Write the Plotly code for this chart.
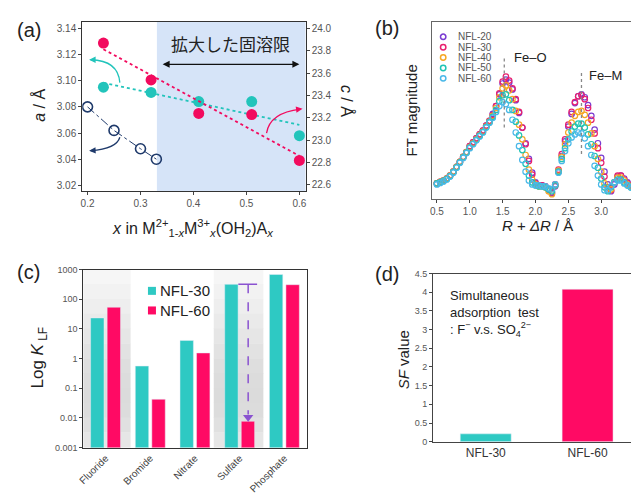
import plotly.graph_objects as go
import numpy as np

# The page body has an 8px margin, so the figure is placed 8px in and sized to fit.
OFF = 8
W, H = 639 - OFF, 494 - OFF
def dx(p0, p1):
    return [max(0, (p0 - OFF) / W), min(1, (p1 - OFF) / W)]
def dy(top, bottom):
    return [max(0, 1 - (bottom - OFF) / H), min(1, 1 - (top - OFF) / H)]
def PX(p):
    return (p - OFF) / W
def PY(p):
    return 1 - (p - OFF) / H

FONT = "Arial, Liberation Sans, sans-serif"
PINK = "#f20a5e"
TEAL = "#22c4bb"
NAVY = "#1f3a6b"
BAR_TEAL = "#2ec9c3"
BAR_PINK = "#ff0a64"

# ---------------- Panel (a) data ----------------
x_open = [0.20, 0.25, 0.30, 0.33]
a_open = [3.080, 3.062, 3.048, 3.040]
x_fill = [0.23, 0.32, 0.41, 0.51, 0.60]
a_teal = [3.095, 3.091, 3.084, 3.084, 3.058]
c_pink = [23.87, 23.54, 23.24, 23.23, 22.82]

# ---------------- Panel (b) data ----------------
R = [0.50, 0.55, 0.60, 0.65, 0.70, 0.75, 0.80, 0.85, 0.90, 0.95,
     1.00, 1.05, 1.10, 1.15, 1.20, 1.25, 1.30, 1.35, 1.40, 1.45,
     1.50, 1.55, 1.60, 1.65, 1.70, 1.75, 1.80, 1.85, 1.90, 1.95,
     2.00, 2.05, 2.10, 2.15, 2.20, 2.25, 2.30, 2.35, 2.40, 2.45,
     2.50, 2.55, 2.60, 2.65, 2.70, 2.75, 2.80, 2.85, 2.90, 2.95,
     3.00, 3.05, 3.10, 3.15, 3.20, 3.25, 3.30, 3.35, 3.40, 3.45, 3.50]
ft_nfl20 = [16, 17.5, 19, 21, 24, 28, 33, 38, 43, 48, 54, 58, 62, 66, 70, 75, 80,
            87, 95, 107, 118, 122, 119, 112, 101, 88, 73, 57, 41, 27, 17, 14, 14, 13, 10, 6,
            13, 28, 44, 59, 74, 87, 98, 105, 107, 104, 96, 85, 71, 57, 42, 28, 15, 8,
            15, 23, 24, 21, 17, 14, 12]
ft_nfl30 = [16, 17.5, 19, 21, 24, 28, 33, 38, 43, 48, 54, 58, 62, 66, 70, 75, 80,
            86, 95, 108, 120, 125, 121, 113, 102, 89, 73, 56, 39, 25, 16, 14, 14, 13, 10, 7,
            15, 30, 46, 61, 76, 89, 99, 105, 106, 102, 93, 81, 67, 52, 37, 23, 12, 9,
            17, 24, 24, 20, 16, 13, 11]
ft_nfl40 = [16, 17.5, 19, 21, 24, 28, 33, 38, 43, 48, 53, 57, 61, 65, 69, 74, 79,
            85, 93, 104, 113, 116, 111, 102, 90, 76, 61, 45, 30, 20, 15, 13, 13, 12, 8, 5,
            14, 29, 43, 56, 68, 78, 85, 89, 90, 86, 78, 67, 54, 41, 28, 16, 9, 10,
            17, 22, 22, 19, 15, 13, 11]
ft_nfl50 = [16, 17, 18.5, 20.5, 23.5, 27.5, 32.5, 37.5, 42.5, 47.5, 52.5, 56.5, 60.5, 64.5, 68.5, 73.5, 78.5,
            84, 91, 100, 106, 107, 101, 91, 79, 65, 50, 36, 24, 17, 14, 13, 13, 12, 10, 8,
            14, 28, 41, 52, 61, 69, 74, 77, 77, 73, 66, 56, 44, 32, 21, 12, 8, 12,
            17, 20, 20, 17, 14, 12, 11]
ft_nfl60 = [15, 16.5, 18, 20, 23, 27, 32, 37, 42, 47, 52, 56, 60, 64, 68, 73, 78,
            83, 89, 95, 99, 97, 91, 81, 68, 54, 40, 28, 19, 15, 14, 14, 13, 13, 11, 10,
            15, 27, 39, 49, 57, 63, 66, 68, 67, 62, 54, 45, 34, 24, 15, 9, 9, 13,
            17, 19, 19, 16, 14, 12, 11]
ft_names = ["NFL-20", "NFL-30", "NFL-40", "NFL-50", "NFL-60"]
ft_colors = ["#7a3bd1", "#e8206e", "#f5a623", "#1fc4b4", "#4ab8e8"]
ft_series = [ft_nfl20, ft_nfl30, ft_nfl40, ft_nfl50, ft_nfl60]

# ---------------- Panel (c) data ----------------
anions = ["Fluoride", "Bromide", "Nitrate", "Sulfate", "Phosphate"]
k_nfl30 = [23.5, 0.56, 4.1, 319, 684]
k_nfl60 = [54, 0.0425, 1.55, 0.0077, 310]
c_ticks = [0.001, 0.01, 0.1, 1, 10, 100, 1000]
c_ticktext = ["0.001", "0.01", "0.1", "1", "10", "100", "1000"]

# ---------------- Panel (d) data ----------------
samples_d = ["NFL-30", "NFL-60"]
sf_values = [0.21, 4.08]
d_ticks = [0, 0.5, 1, 1.5, 2, 2.5, 3, 3.5, 4, 4.5]
d_ticktext = ["0", "0.5", "1", "1.5", "2", "2.5", "3", "3.5", "4", "4.5"]

fig = go.Figure()

# ---- (a) traces
pfit = np.polyfit(x_fill, c_pink, 1)
tfit = np.polyfit(x_fill, a_teal, 1)
xf = [x_fill[0], x_fill[-1]]
fig.add_trace(go.Scatter(x=xf, y=[np.polyval(tfit, v) for v in xf], mode="lines",
                         line=dict(color=TEAL, dash="dot", width=1.8), xaxis="x", yaxis="y", showlegend=False))
fig.add_trace(go.Scatter(x=x_open, y=a_open, mode="lines+markers",
                         line=dict(color=NAVY, dash="dashdot", width=1),
                         marker=dict(symbol="circle-open", size=10, color=NAVY, line=dict(width=1.6)),
                         xaxis="x", yaxis="y", showlegend=False))
fig.add_trace(go.Scatter(x=x_fill, y=a_teal, mode="markers",
                         marker=dict(size=11, color=TEAL), xaxis="x", yaxis="y", showlegend=False))
fig.add_trace(go.Scatter(x=xf, y=[np.polyval(pfit, v) for v in xf], mode="lines",
                         line=dict(color=PINK, dash="dot", width=1.8), xaxis="x", yaxis="y2", showlegend=False))
fig.add_trace(go.Scatter(x=x_fill, y=c_pink, mode="markers",
                         marker=dict(size=11, color=PINK), xaxis="x", yaxis="y2", showlegend=False))

# ---- (b) traces
for name, col, ys in zip(ft_names, ft_colors, ft_series):
    fig.add_trace(go.Scatter(x=R, y=ys, mode="markers", name=name,
                             marker=dict(symbol="circle-open", size=5.5, color=col, line=dict(width=1.2)),
                             xaxis="x2", yaxis="y3", showlegend=False))

# ---- (c) traces
xc = list(range(len(anions)))
fig.add_trace(go.Bar(x=xc, y=k_nfl30, marker_color=BAR_TEAL, name="NFL-30",
                     xaxis="x3", yaxis="y4", showlegend=False, offsetgroup="a"))
fig.add_trace(go.Bar(x=xc, y=k_nfl60, marker_color=BAR_PINK, name="NFL-60",
                     xaxis="x3", yaxis="y4", showlegend=False, offsetgroup="b"))
PURP = "#8a52d0"
s_i = anions.index("Sulfate")
fig.add_trace(go.Scatter(x=[s_i - 0.03, s_i + 0.39], y=[k_nfl30[s_i]] * 2, mode="lines",
                         line=dict(color=PURP, width=1.5), xaxis="x3", yaxis="y4", showlegend=False))
fig.add_trace(go.Scatter(x=[s_i + 0.19] * 2, y=[k_nfl30[s_i], k_nfl60[s_i] * 1.7], mode="lines",
                         line=dict(color=PURP, width=1.5, dash="dash"), xaxis="x3", yaxis="y4", showlegend=False))
fig.add_trace(go.Scatter(x=[s_i + 0.19], y=[k_nfl60[s_i] * 1.38], mode="markers",
                         marker=dict(symbol="triangle-down", size=9, color=PURP),
                         xaxis="x3", yaxis="y4", showlegend=False))

# ---- (d) traces
fig.add_trace(go.Bar(x=[0, 1], y=sf_values, marker_color=[BAR_TEAL, BAR_PINK], width=0.5,
                     xaxis="x4", yaxis="y5", showlegend=False))

tickfont = dict(family=FONT, size=10, color="#555")
common_line = dict(showline=True, linecolor="#333", linewidth=1, showgrid=False, zeroline=False)

fig.update_layout(
    width=W, height=H, margin=dict(l=0, r=0, t=0, b=0), autosize=False,
    paper_bgcolor="white", plot_bgcolor="rgba(0,0,0,0)",
    font=dict(family=FONT, color="#222"),
    barmode="group", bargap=0.26, bargroupgap=0.19,
    # (a)
    xaxis=dict(domain=dx(77, 303), range=[0.19, 0.612], anchor="y", mirror=True,
               tickvals=[0.2, 0.3, 0.4, 0.5, 0.6], tickformat=".1f", ticks="outside", ticklen=3,
               tickfont=tickfont, **common_line),
    yaxis=dict(domain=dy(17, 190), range=[3.0155, 3.145], anchor="x",
               tickvals=[3.02, 3.04, 3.06, 3.08, 3.10, 3.12, 3.14], tickformat=".2f",
               ticks="outside", ticklen=3, tickfont=tickfont, **common_line),
    yaxis2=dict(range=[22.544, 24.06], overlaying="y", side="right", anchor="x",
                tickvals=[22.6, 22.8, 23.0, 23.2, 23.4, 23.6, 23.8, 24.0], tickformat=".1f",
                ticks="outside", ticklen=3, tickfont=tickfont, **common_line),
    # (b)
    xaxis2=dict(domain=dx(431, 637), range=[0.43, 3.53], anchor="y3", mirror=True,
                tickvals=[0.5, 1.0, 1.5, 2.0, 2.5, 3.0, 3.5], tickformat=".1f", ticks="outside", ticklen=3,
                tickfont=tickfont, showline=True, linecolor="#666", linewidth=1, showgrid=False, zeroline=False),
    yaxis3=dict(domain=dy(17, 198), range=[0, 181], anchor="x2", mirror=True, showticklabels=False,
                ticks="", showline=True, linecolor="#666", linewidth=1, showgrid=False, zeroline=False),
    # (c)
    xaxis3=dict(domain=dx(78, 304), range=[-0.5, 4.5], anchor="y4", mirror=True,
                tickvals=xc, ticktext=anions, tickangle=-45, ticks="",
                tickfont=dict(family=FONT, size=10, color="#444"), **common_line),
    yaxis4=dict(domain=dy(270, 451.7), type="log", range=[-3, 3], anchor="x3", mirror=True,
                tickvals=c_ticks, ticktext=c_ticktext, ticks="outside", ticklen=3,
                tickfont=dict(family=FONT, size=9, color="#555"), **common_line),
    # (d)
    xaxis4=dict(domain=dx(431.7, 639), range=[-0.5175, 1.495], anchor="y5", mirror=True,
                tickvals=[0, 1], ticktext=samples_d, ticks="",
                tickfont=dict(family=FONT, size=12, color="#333"),
                showline=True, linecolor="#444", linewidth=1, showgrid=False, zeroline=False),
    yaxis5=dict(domain=dy(274, 445.7), range=[0, 4.5], anchor="x4",
                tickvals=d_ticks, ticktext=d_ticktext, ticks="outside", ticklen=3,
                tickfont=dict(family=FONT, size=9, color="#555"),
                showline=True, linecolor="#444", linewidth=1, showgrid=False, zeroline=False),
)

shapes = []
# (a) shaded band
shapes.append(dict(type="rect", xref="x", yref="y domain", x0=0.331, x1=0.612, y0=0, y1=1,
                   fillcolor="#d6e4f8", line=dict(width=0), layer="below"))
# (a) curved arrows
shapes.append(dict(type="path", xref="x", yref="y", path="M 0.261,3.0985 Q 0.258,3.1155 0.206,3.116",
                   line=dict(color=TEAL, width=1.3)))
shapes.append(dict(type="path", xref="x", yref="y", path="M 0.261,3.0568 Q 0.255,3.048 0.206,3.0465",
                   line=dict(color=NAVY, width=1.3)))
shapes.append(dict(type="path", xref="x", yref="y", path="M 0.538,3.060 Q 0.544,3.0755 0.602,3.0783",
                   line=dict(color=PINK, width=1.3)))
# (c) gray gradient background bands (vertical strips of shade)
band_levels = [246, 242, 238, 234, 230, 226, 222, 220, 219, 220, 224, 230]
nb = len(band_levels)
for (b0, b1) in [(-0.5, 0.56), (2.42, 3.53)]:
    for k, g in enumerate(band_levels):
        shapes.append(dict(type="rect", xref="x3", yref="y4 domain", x0=b0, x1=b1,
                           y0=1 - (k + 1) / nb, y1=1 - k / nb + 0.002,
                           fillcolor=f"rgb({g},{g},{g})", line=dict(width=0), layer="below"))
# (b) dotted peak guides
shapes.append(dict(type="line", xref="x2", yref="y3", x0=1.525, x1=1.525, y0=73, y1=145,
                   line=dict(color="#888", width=1.3, dash="dot")))
shapes.append(dict(type="line", xref="x2", yref="y3", x0=2.70, x1=2.70, y0=46, y1=130,
                   line=dict(color="#888", width=1.3, dash="dot")))
# (b) legend markers
leg_rows = [32.3, 42.9, 53.5, 64.1, 74.7]
for yy, col in zip(leg_rows, ft_colors):
    shapes.append(dict(type="circle", xref="paper", yref="paper", xsizemode="pixel", ysizemode="pixel",
                       xanchor=PX(442), yanchor=PY(yy), x0=-2.7, x1=2.7, y0=-2.7, y1=2.7,
                       line=dict(color=col, width=1.5)))
# (c) legend squares
for yy, col in zip([291.7, 311.7], [BAR_TEAL, BAR_PINK]):
    shapes.append(dict(type="rect", xref="paper", yref="paper", xsizemode="pixel", ysizemode="pixel",
                       xanchor=PX(147.5), yanchor=PY(yy), x0=-4, x1=4, y0=-4, y1=4,
                       fillcolor=col, line=dict(width=0)))
fig.update_layout(shapes=shapes)

ann = []
def label(text, x, y, size, angle=0, color="#222", xanchor="center", yanchor="middle", align="center"):
    ann.append(dict(text=text, x=PX(x), y=PY(y), xref="paper", yref="paper", showarrow=False,
                    font=dict(family=FONT, size=size, color=color), textangle=angle,
                    xanchor=xanchor, yanchor=yanchor, align=align))

label("(a)", 23, 25, 20)
label("(b)", 385, 23, 20)
label("(c)", 23, 272, 20)
label("(d)", 385, 274, 20)
label("<i>a</i> / Å", 33, 102, 16, angle=-90)
label("<i>c</i> / Å", 345, 98, 16, angle=90)
label("<i>x</i> in M<sup>2+</sup><sub>1-<i>x</i></sub>M<sup>3+</sup><sub><i>x</i></sub>(OH<sub>2</sub>)A<sub><i>x</i></sub>",
      189, 228, 16)
label("FT magnitude", 410, 108, 15, angle=-90)
label("<i>R</i> + <i>ΔR</i> / Å", 537, 225, 15)
label("Log <i>K</i><sub> LF</sub>", 33, 360, 17, angle=-90)
label("<i>SF</i> value", 402, 362, 15, angle=-90)
label("Fe–O", 530, 53, 13)
label("Fe–M", 606, 72, 13)
for yy, name in zip(leg_rows, ft_names):
    label(name, 455, yy, 10, color="#555", xanchor="left")
for yy, name in zip([291.7, 311.7], ["NFL-30", "NFL-60"]):
    label(name, 154, yy, 15, color="#222", xanchor="left")
label("Simultaneous<br>adsorption  test<br>: F<sup>−</sup> v.s. SO<sub>4</sub><sup>2−</sup>",
      447, 287, 13, xanchor="left", yanchor="top", align="left")

# (a) text and arrows
ann.append(dict(text="拡大した固溶限", x=0.47, y=3.1288, xref="x", yref="y", showarrow=False,
                font=dict(family="Noto Sans CJK JP", size=17, color="#222")))
ann.append(dict(text="", x=0.6, y=3.1125, ax=0.339, ay=3.1125, xref="x", yref="y", axref="x", ayref="y",
                showarrow=True, arrowhead=2, arrowside="end+start", arrowwidth=1.4, arrowsize=1,
                arrowcolor="#111"))
for (xe, ye, xs, ys, col) in [(0.203, 3.116, 0.213, 3.116, TEAL), (0.203, 3.0465, 0.213, 3.0467, NAVY),
                              (0.606, 3.0785, 0.596, 3.078, PINK)]:
    ann.append(dict(text="", x=xe, y=ye, ax=xs, ay=ys, xref="x", yref="y", axref="x", ayref="y",
                    showarrow=True, arrowhead=2, arrowwidth=1.3, arrowsize=1, arrowcolor=col))
fig.update_layout(annotations=ann)

fig.write_html("out.html")
